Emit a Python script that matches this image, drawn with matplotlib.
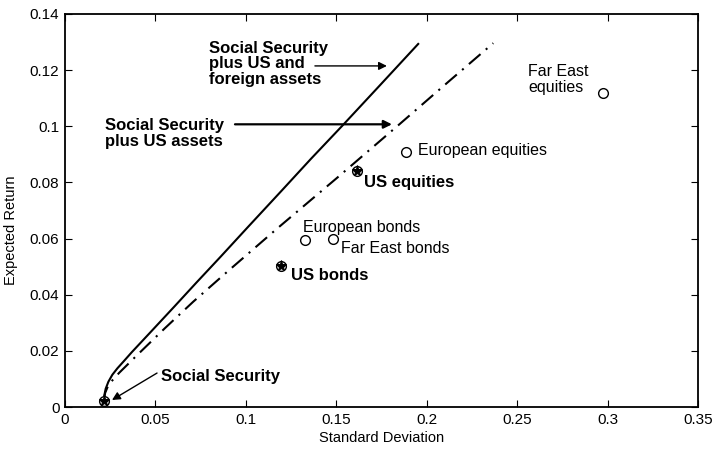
import matplotlib
matplotlib.use("Agg")
import matplotlib.pyplot as plt

plt.rcParams['font.family'] = ['Liberation Sans', 'DejaVu Sans']
plt.rcParams['lines.scale_dashes'] = False

# Frontier: Social Security plus US and foreign assets (solid)
solid_sd = [0.0215, 0.0217, 0.0225, 0.0240, 0.0262, 0.0290, 0.0325, 0.0369,
            0.0475, 0.0605, 0.0725, 0.0860, 0.1010, 0.1200, 0.1360, 0.1535,
            0.1740, 0.1957]
solid_ret = [0.0020, 0.0040, 0.0065, 0.0090, 0.0115, 0.0138, 0.0163, 0.0195,
             0.0268, 0.0358, 0.0442, 0.0535, 0.0640, 0.0772, 0.0884, 0.1003,
             0.1145, 0.1296]

# Frontier: Social Security plus US assets (dash-dot)
dash_sd = [0.0215, 0.0222, 0.0238, 0.0258, 0.0300, 0.0396, 0.0553, 0.0709,
           0.0894, 0.1170, 0.1502, 0.1849, 0.2119, 0.2368]
dash_ret = [0.0020, 0.0050, 0.0075, 0.0092, 0.0122, 0.0183, 0.0281, 0.0375,
            0.0480, 0.0634, 0.0815, 0.1007, 0.1158, 0.1296]

# Individual assets
us_names = ["US equities", "US bonds", "Social Security"]
us_sd = [0.1614, 0.1194, 0.0215]
us_ret = [0.0841, 0.0502, 0.0020]

foreign_names = ["European equities", "Far East equities", "European bonds", "Far East bonds"]
foreign_sd = [0.1885, 0.2974, 0.1327, 0.1481]
foreign_ret = [0.0908, 0.1119, 0.0595, 0.0598]

xticks = [0, 0.05, 0.1, 0.15, 0.2, 0.25, 0.3, 0.35]
xticklabels = ["0", "0.05", "0.1", "0.15", "0.2", "0.25", "0.3", "0.35"]
yticks = [0, 0.02, 0.04, 0.06, 0.08, 0.1, 0.12, 0.14]
yticklabels = ["0", "0.02", "0.04", "0.06", "0.08", "0.1", "0.12", "0.14"]

fig = plt.figure(figsize=(7.18, 4.54), dpi=100)
ax = fig.add_axes([0.0905, 0.1035, 0.8816, 0.8657])

ax.plot(solid_sd, solid_ret, color='black', lw=1.5, solid_capstyle='butt')
ax.plot(dash_sd, dash_ret, color='black', lw=1.5, linestyle=(0, (11, 5, 1.5, 5)))

ax.plot(foreign_sd, foreign_ret, linestyle='none', marker='o', ms=7,
        mfc='white', mec='black', mew=1.0)
ax.plot(us_sd, us_ret, linestyle='none', marker='o', ms=7,
        mfc='white', mec='black', mew=1.0)
ax.plot(us_sd, us_ret, linestyle='none', marker='*', ms=8,
        mfc='black', mec='black', mew=0.8)

fs_norm = 11.5
fs_bold = 12

# Asset labels
ax.text(0.1951, 0.0912, "European equities", fontsize=fs_norm, va='center', ha='left')
ax.text(0.1653, 0.0798, "US equities", fontsize=fs_bold, fontweight='bold', va='center', ha='left')
ax.text(0.1316, 0.0638, "European bonds", fontsize=fs_norm, va='center', ha='left')
ax.text(0.1526, 0.0563, "Far East bonds", fontsize=fs_norm, va='center', ha='left')
ax.text(0.1249, 0.0470, "US bonds", fontsize=fs_bold, fontweight='bold', va='center', ha='left')
ax.text(0.2560, 0.1168, "Far East\nequities", fontsize=fs_norm, va='center', ha='left',
        linespacing=1.1)

# Frontier labels with arrows
ax.text(0.0796, 0.1222, "Social Security\nplus US and\nforeign assets", fontsize=fs_bold,
        fontweight='bold', va='center', ha='left', linespacing=1.05)
ax.annotate("", xy=(0.1780, 0.1215), xytext=(0.1382, 0.1215),
            arrowprops=dict(arrowstyle='-|>', color='black', lw=1.0, mutation_scale=12,
                            shrinkA=0, shrinkB=0))

ax.text(0.0221, 0.0974, "Social Security\nplus US assets", fontsize=fs_bold,
        fontweight='bold', va='center', ha='left', linespacing=1.05)
ax.annotate("", xy=(0.1808, 0.1007), xytext=(0.0940, 0.1007),
            arrowprops=dict(arrowstyle='-|>', color='black', lw=1.6, mutation_scale=12,
                            shrinkA=0, shrinkB=0))

ax.text(0.0531, 0.0107, "Social Security", fontsize=fs_bold, fontweight='bold',
        va='center', ha='left')
ax.annotate("", xy=(0.0260, 0.0025), xytext=(0.0509, 0.0121),
            arrowprops=dict(arrowstyle='-|>', color='black', lw=1.0, mutation_scale=12,
                            shrinkA=0, shrinkB=0))

ax.set_xlim(0, 0.35)
ax.set_ylim(0, 0.14)
ax.set_xticks(xticks)
ax.set_xticklabels(xticklabels)
ax.set_yticks(yticks)
ax.set_yticklabels(yticklabels)
ax.tick_params(direction='in', top=True, right=True, length=5, width=0.8,
               labelsize=11, pad=4)
for s in ax.spines.values():
    s.set_linewidth(1.3)

ax.set_xlabel("Standard Deviation", fontsize=10.5, labelpad=3)
ax.set_ylabel("Expected Return", fontsize=10.5, labelpad=6)
ax.yaxis.set_label_coords(-0.075, 0.45)

fig.savefig("out.png", dpi=100)
